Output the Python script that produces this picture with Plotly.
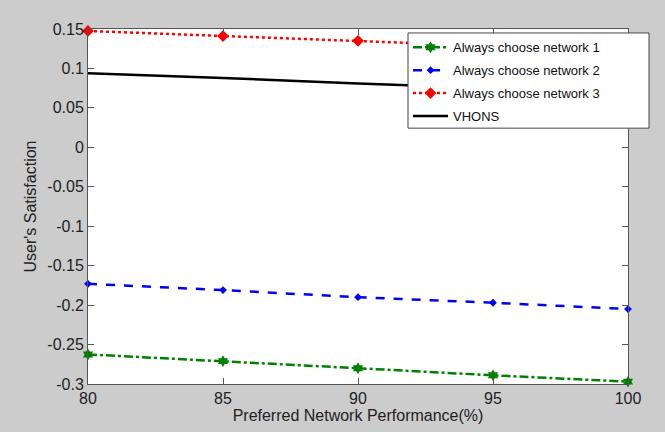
import plotly.graph_objects as go

# Preferred network performance (%)
performance = [80, 85, 90, 95, 100]

# User's satisfaction for each selection strategy
network1 = [-0.2625, -0.271, -0.280, -0.289, -0.297]
network2 = [-0.173, -0.181, -0.190, -0.197, -0.205]
network3 = [0.1475, 0.141, 0.135, 0.128, 0.122]
vhons = [0.094, 0.088, 0.081, 0.075, 0.068]

y_ticks = [0.15, 0.1, 0.05, 0, -0.05, -0.1, -0.15, -0.2, -0.25, -0.3]
y_labels = ["0.15", "0.1", "0.05", "0", "-0.05", "-0.1", "-0.15", "-0.2", "-0.25", "-0.3"]
x_ticks = [80, 85, 90, 95, 100]

font_family = "Liberation Sans, Arial, sans-serif"

fig = go.Figure()
fig.add_trace(go.Scatter(
    x=performance, y=network1, name="Always choose network 1", legendgroup="n1",
    mode="lines+markers", cliponaxis=False,
    line=dict(color="#008000", width=2.5, dash="dashdot"),
    marker=dict(symbol="hexagram", size=9, color="#008000"),
))
fig.add_trace(go.Scatter(
    x=performance, y=network2, name="Always choose network 2", legendgroup="n2",
    mode="lines+markers", cliponaxis=False,
    line=dict(color="#0000ff", width=2.5, dash="dash"),
    marker=dict(symbol="diamond", size=6, color="#0000ff"),
))
fig.add_trace(go.Scatter(
    x=performance, y=network3, name="Always choose network 3", legendgroup="n3",
    mode="lines+markers", cliponaxis=False,
    line=dict(color="#ff0000", width=2.5, dash="dot"),
    marker=dict(symbol="diamond", size=9, color="#ff0000"),
))
fig.add_trace(go.Scatter(
    x=performance, y=vhons, name="VHONS", legendgroup="v",
    mode="lines", cliponaxis=False,
    line=dict(color="#000000", width=2.5),
))

axis_common = dict(
    showgrid=False, zeroline=False,
    showline=True, linecolor="#555555", linewidth=1, mirror="ticks",
    ticks="inside", ticklen=6, tickcolor="#555555",
    tickfont=dict(family=font_family, size=16, color="#222222"),
)

# Legend frame drawn as a white box reaching past the right edge of the axes
fig.add_shape(type="rect", xref="paper", yref="paper",
              x0=0.5926, x1=1.0389, y0=0.7207, y1=0.9888,
              fillcolor="#ffffff", line=dict(color="#444444", width=1),
              layer="above")

fig.update_layout(
    width=665, height=432,
    margin=dict(l=88, r=37, t=29, b=45),
    paper_bgcolor="#cccccc", plot_bgcolor="#ffffff",
    font=dict(family=font_family, color="#222222"),
    xaxis=dict(range=[80, 100], tickvals=x_ticks,
               title=dict(text="Preferred Network Performance(%)", standoff=2,
                          font=dict(family=font_family, size=16)),
               **axis_common),
    yaxis=dict(range=[-0.3, 0.15], tickvals=y_ticks, ticktext=y_labels,
               title=dict(text="User's Satisfaction", standoff=6,
                          font=dict(family=font_family, size=16)),
               **axis_common),
    legend=dict(x=0.5926, xanchor="left", y=0.9906, yanchor="top",
                bgcolor="rgba(0,0,0,0)", borderwidth=0,
                font=dict(family=font_family, size=13, color="#111111"),
                tracegroupgap=3, itemwidth=35),
)

fig.write_html("out.html")
